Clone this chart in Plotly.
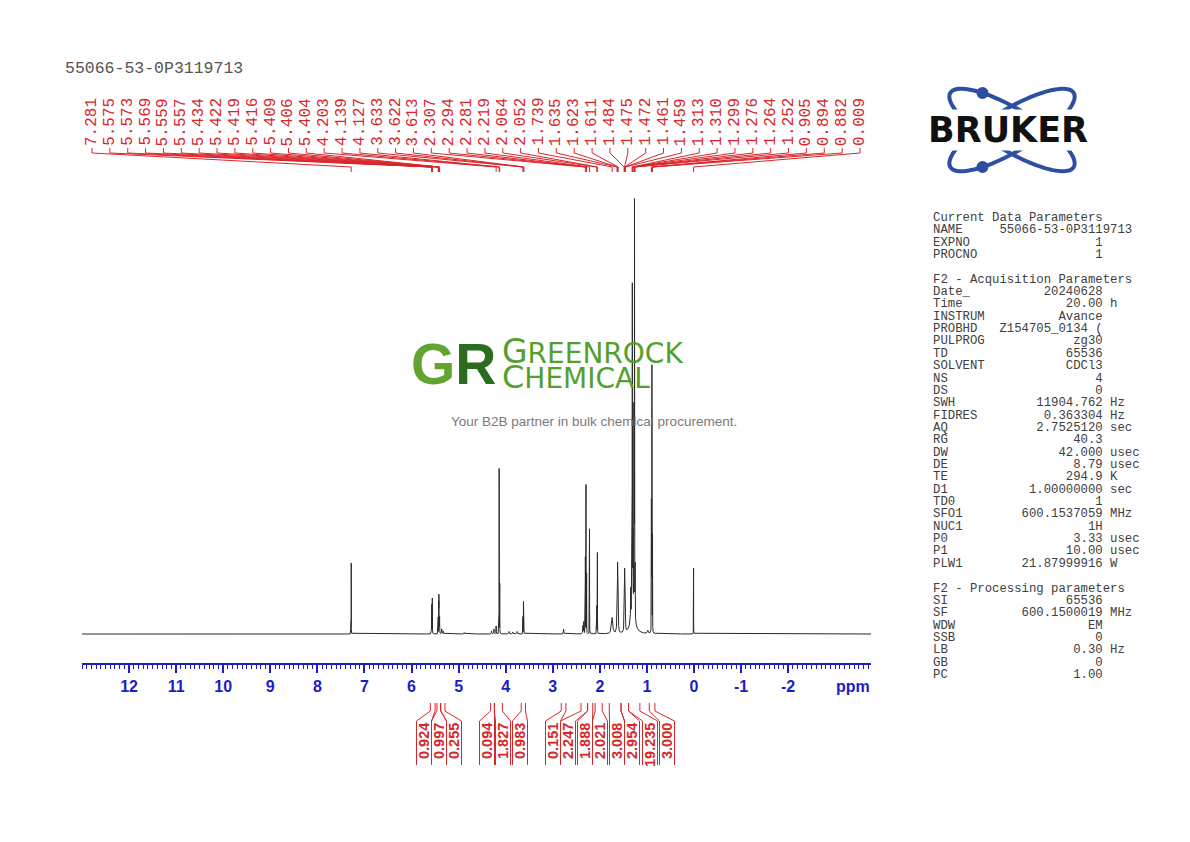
import numpy as np
import plotly.graph_objects as go

W, H = 1190, 842
PAGE_OFFSET = 8                        # the browser puts the figure 8 px in from the page corner
X_LEFT, X_RIGHT = 13.0, -3.76          # ppm at the two ends of the ruler
BOX = dict(left=82, right=871, top=190, bottom=663)   # spectrum box in page pixels
Y_RANGE = [-29, 444]                   # intensity units (baseline sits a bit above the ruler)

BLUE = "#1c1cc9"
RED = "#d9262b"
GREY = "#404040"

SAMPLE_NAME = "55066-53-0P3119713"

# peak list: shift (ppm), height, half width (ppm)
PEAK_PPM = [7.281,
            5.575, 5.573, 5.569, 5.559, 5.557,
            5.434, 5.422, 5.419, 5.416, 5.409, 5.406, 5.404, 5.36, 5.33,
            4.88, 4.30, 4.25, 4.203, 4.139, 4.127,
            3.93, 3.85, 3.76, 3.633, 3.622, 3.613,
            2.77, 2.36, 2.34, 2.307, 2.294, 2.281, 2.219, 2.064, 2.052,
            1.739, 1.635, 1.623, 1.611,
            1.484, 1.475, 1.472, 1.461, 1.459,
            1.345, 1.313, 1.310, 1.30, 1.299, 1.276, 1.264, 1.252,
            0.98, 0.905, 0.894, 0.882, 0.009]
PEAK_HEIGHT = [71,
               16, 18, 27, 30, 20,
               18, 27, 32, 25, 20, 17, 14, 5, 3,
               1.5, 3, 5, 8, 165, 62,
               2.5, 2, 2.5, 17, 32, 16,
               5, 8, 12, 95, 148, 60, 105, 40, 81,
               16, 38, 63, 44,
               28, 36, 38, 28, 24,
               30, 150, 285, 35, 120, 200, 410, 150,
               3, 130, 266, 140, 66]
PEAK_HWHM = [0.0010,
             0.0012, 0.0012, 0.0012, 0.0012, 0.0012,
             0.0012, 0.0012, 0.0012, 0.0012, 0.0012, 0.0012, 0.0012, 0.004, 0.005,
             0.005, 0.004, 0.004, 0.003, 0.0010, 0.0012,
             0.006, 0.006, 0.006, 0.0012, 0.0012, 0.0012,
             0.004, 0.004, 0.004, 0.0012, 0.0010, 0.0012, 0.0012, 0.0012, 0.0012,
             0.015, 0.004, 0.004, 0.004,
             0.003, 0.003, 0.003, 0.003, 0.003,
             0.003, 0.0015, 0.0015, 0.04, 0.0015, 0.0015, 0.0012, 0.0015,
             0.01, 0.0012, 0.0014, 0.0012, 0.0008]

# picked peaks printed across the top
PICKED_PPM = [7.281, 5.575, 5.573, 5.569, 5.559, 5.557, 5.434, 5.422, 5.419, 5.416,
              5.409, 5.406, 5.404, 4.203, 4.139, 4.127, 3.633, 3.622, 3.613, 2.307,
              2.294, 2.281, 2.219, 2.064, 2.052, 1.739, 1.635, 1.623, 1.611, 1.484,
              1.475, 1.472, 1.461, 1.459, 1.313, 1.310, 1.299, 1.276, 1.264, 1.252,
              0.905, 0.894, 0.882, 0.009]

# integral regions (ppm) and their values
INT_FROM = [5.60, 5.46, 5.38, 4.32, 4.24, 3.67, 2.82, 2.40, 2.26, 2.10, 1.80, 1.55, 1.39, 0.95]
INT_TO = [5.50, 5.38, 5.29, 4.24, 4.07, 3.58, 2.72, 2.26, 2.15, 1.95, 1.55, 1.39, 1.15, 0.83]
INT_VALUE = ["0.924", "0.997", "0.255", "0.094", "1.827", "0.983", "0.151",
             "2.247", "1.888", "2.021", "3.008", "2.954", "19.235", "3.000"]

AXIS_TICKS = [12, 11, 10, 9, 8, 7, 6, 5, 4, 3, 2, 1, 0, -1, -2]

PARAMS = [
    ("Current Data Parameters", None, None),
    ("NAME", SAMPLE_NAME, ""),
    ("EXPNO", "1", ""),
    ("PROCNO", "1", ""),
    None,
    ("F2 - Acquisition Parameters", None, None),
    ("Date_", "20240628", ""),
    ("Time", "20.00", "h"),
    ("INSTRUM", "Avance", ""),
    ("PROBHD", "Z154705_0134 (", ""),
    ("PULPROG", "zg30", ""),
    ("TD", "65536", ""),
    ("SOLVENT", "CDCl3", ""),
    ("NS", "4", ""),
    ("DS", "0", ""),
    ("SWH", "11904.762", "Hz"),
    ("FIDRES", "0.363304", "Hz"),
    ("AQ", "2.7525120", "sec"),
    ("RG", "40.3", ""),
    ("DW", "42.000", "usec"),
    ("DE", "8.79", "usec"),
    ("TE", "294.9", "K"),
    ("D1", "1.00000000", "sec"),
    ("TD0", "1", ""),
    ("SFO1", "600.1537059", "MHz"),
    ("NUC1", "1H", ""),
    ("P0", "3.33", "usec"),
    ("P1", "10.00", "usec"),
    ("PLW1", "21.87999916", "W"),
    None,
    ("F2 - Processing parameters", None, None),
    ("SI", "65536", ""),
    ("SF", "600.1500019", "MHz"),
    ("WDW", "EM", ""),
    ("SSB", "0", ""),
    ("LB", "0.30", "Hz"),
    ("GB", "0", ""),
    ("PC", "1.00", ""),
]

# label layout (page pixels)
PICK_LABEL_PX = np.linspace(92, 860, len(PICKED_PPM))
INT_LABEL_PX = [424, 439, 454, 487, 503, 520, 553, 568, 585, 600, 617, 632, 650, 667]


def ppm_at(px):
    return X_LEFT + (px - BOX["left"]) / (BOX["right"] - BOX["left"]) * (X_RIGHT - X_LEFT)


def fx(px):
    return (px - PAGE_OFFSET) / W


def fy(py):
    return 1 - (py - PAGE_OFFSET) / H


# spectrum: Lorentzian lines at the read-off peaks
grid = np.union1d(np.arange(X_RIGHT, X_LEFT, 0.0004), PEAK_PPM)
spec = np.zeros_like(grid)
for p, h, w in zip(PEAK_PPM, PEAK_HEIGHT, PEAK_HWHM):
    spec += h / (1 + ((grid - p) / w) ** 2)

fig = go.Figure(go.Scatter(x=grid, y=spec, mode="lines",
                           line=dict(color="#2a2a2a", width=1), hoverinfo="skip"))

annotations = []
shapes = []

# picked peak labels + connectors
for lx, p in zip(PICK_LABEL_PX, PICKED_PPM):
    xl = ppm_at(lx)
    annotations.append(dict(x=xl, xref="x", y=fy(147), yref="paper", text=f"{p:.3f}",
                            textangle=-90, showarrow=False, xanchor="center", yanchor="bottom",
                            borderpad=0, font=dict(family="Liberation Mono", size=16, color=RED)))
    shapes.append(dict(type="path", xref="x", yref="paper",
                       path=f"M {xl},{fy(148)} L {xl},{fy(153)} L {p},{fy(167)} L {p},{fy(172)}",
                       line=dict(color=RED, width=1)))

# integral labels + brackets
for lx, a, b, v in zip(INT_LABEL_PX, INT_FROM, INT_TO, INT_VALUE):
    left, right = ppm_at(lx - 7.5), ppm_at(lx + 7.5)
    annotations.append(dict(x=ppm_at(lx), xref="x", y=fy(722), yref="paper", text=f"<b>{v}</b>",
                            textangle=-90, showarrow=False, xanchor="center", yanchor="top",
                            borderpad=0, font=dict(family="Liberation Sans", size=14.5, color=RED)))
    for edge, side in ((a, left), (b, right)):
        shapes.append(dict(type="path", xref="x", yref="paper",
                           path=f"M {edge},{fy(703)} L {edge},{fy(711)} L {side},{fy(721)} L {side},{fy(765)}",
                           line=dict(color=RED, width=1)))

# sample name top left
annotations.append(dict(x=fx(63), y=fy(68), xref="paper", yref="paper", text=SAMPLE_NAME,
                        showarrow=False, xanchor="left", yanchor="middle",
                        font=dict(family="Liberation Mono", size=16.5, color="#555555")))

# "ppm" at the end of the ruler
annotations.append(dict(x=fx(853), y=fy(686), xref="paper", yref="paper", text="<b>ppm</b>",
                        showarrow=False, xanchor="center", yanchor="middle",
                        font=dict(family="Liberation Sans", size=16, color=BLUE)))

# parameter list
for i, row in enumerate(PARAMS):
    if row is None:
        continue
    key, val, unit = row
    if val is None:
        line = key
    else:
        line = key.ljust(9) + val.rjust(14) + (" " + unit if unit else "")
    annotations.append(dict(x=fx(931), y=fy(218 + i * 12.35), xref="paper", yref="paper",
                            text=line.replace(" ", "\u00a0"), showarrow=False,
                            xanchor="left", yanchor="middle",
                            font=dict(family="Liberation Mono", size=12.3, color=GREY)))

# Greenrock watermark
annotations += [
    dict(x=fx(454), y=fy(364), xanchor="center",
         text="<b><span style='color:#63a330'>G</span><span style='color:#2d6b1e'>R</span></b>",
         font=dict(family="Liberation Sans", size=57, color="#63a330")),
    dict(x=fx(500), y=fy(364), xanchor="left", align="left",
         text="<span style='font-size:28px'><span style='font-size:33px'>G</span>REENROCK<br>"
              "<span style='font-size:32px'>C</span>HEMICAL</span>",
         font=dict(family="DejaVu Sans", size=19.5, color="#54a02b")),
    dict(x=fx(594), y=fy(421), xanchor="center", text="Your B2B partner in bulk chemical procurement.",
         font=dict(family="Liberation Sans", size=13.5, color="#7a7a7a")),
]
for ann in annotations[-3:]:
    ann.update(xref="paper", yref="paper", showarrow=False, yanchor="middle")

# Bruker logo: two orbits, two dots, wordmark
cx, cy, ra, rb = 1012, 130, 72, 21
t = np.linspace(0, 2 * np.pi, 120)
for theta, tdot in ((np.radians(31), np.radians(232)), (np.radians(-31), np.radians(128))):
    ex = cx + ra * np.cos(t) * np.cos(theta) - rb * np.sin(t) * np.sin(theta)
    ey = cy + ra * np.cos(t) * np.sin(theta) + rb * np.sin(t) * np.cos(theta)
    path = "M " + " L ".join(f"{fx(a):.5f},{fy(b):.5f}" for a, b in zip(ex, ey)) + " Z"
    shapes.append(dict(type="path", xref="paper", yref="paper", path=path,
                       line=dict(color="#2c4fa3", width=4)))
    dx = cx + ra * np.cos(tdot) * np.cos(theta) - rb * np.sin(tdot) * np.sin(theta)
    dy = cy + ra * np.cos(tdot) * np.sin(theta) + rb * np.sin(tdot) * np.cos(theta)
    shapes.append(dict(type="circle", xref="paper", yref="paper",
                       x0=fx(dx - 6), x1=fx(dx + 6), y0=fy(dy + 6), y1=fy(dy - 6),
                       fillcolor="#2c4fa3", line=dict(width=0)))
annotations.append(dict(x=fx(1008), y=fy(130), xref="paper", yref="paper", text="<b>BRUKER</b>",
                        showarrow=False, xanchor="center", yanchor="middle", bgcolor="white",
                        borderpad=0, font=dict(family="DejaVu Sans", size=35, color="#111111")))

fig.update_layout(
    width=W, height=H,
    margin=dict(l=0, r=0, t=0, b=0),
    paper_bgcolor="white", plot_bgcolor="white",
    showlegend=False, hovermode=False,
    xaxis=dict(
        domain=[fx(BOX["left"]), fx(BOX["right"])],
        range=[X_LEFT, X_RIGHT],
        showgrid=False, zeroline=False,
        showline=True, linecolor=BLUE, linewidth=1.5,
        ticks="outside", ticklen=8, tickwidth=1.5, tickcolor=BLUE,
        tickmode="array", tickvals=AXIS_TICKS,
        ticktext=[f"<b>{v}</b>" for v in AXIS_TICKS],
        tickfont=dict(family="Liberation Sans", size=16, color=BLUE),
        minor=dict(tickmode="linear", tick0=0, dtick=0.1, ticks="outside",
                   ticklen=4, tickwidth=1, tickcolor=BLUE, showgrid=False),
    ),
    yaxis=dict(domain=[fy(BOX["bottom"]), fy(BOX["top"])], range=Y_RANGE, visible=False),
    annotations=annotations,
    shapes=shapes,
)

fig.write_html("out.html")
